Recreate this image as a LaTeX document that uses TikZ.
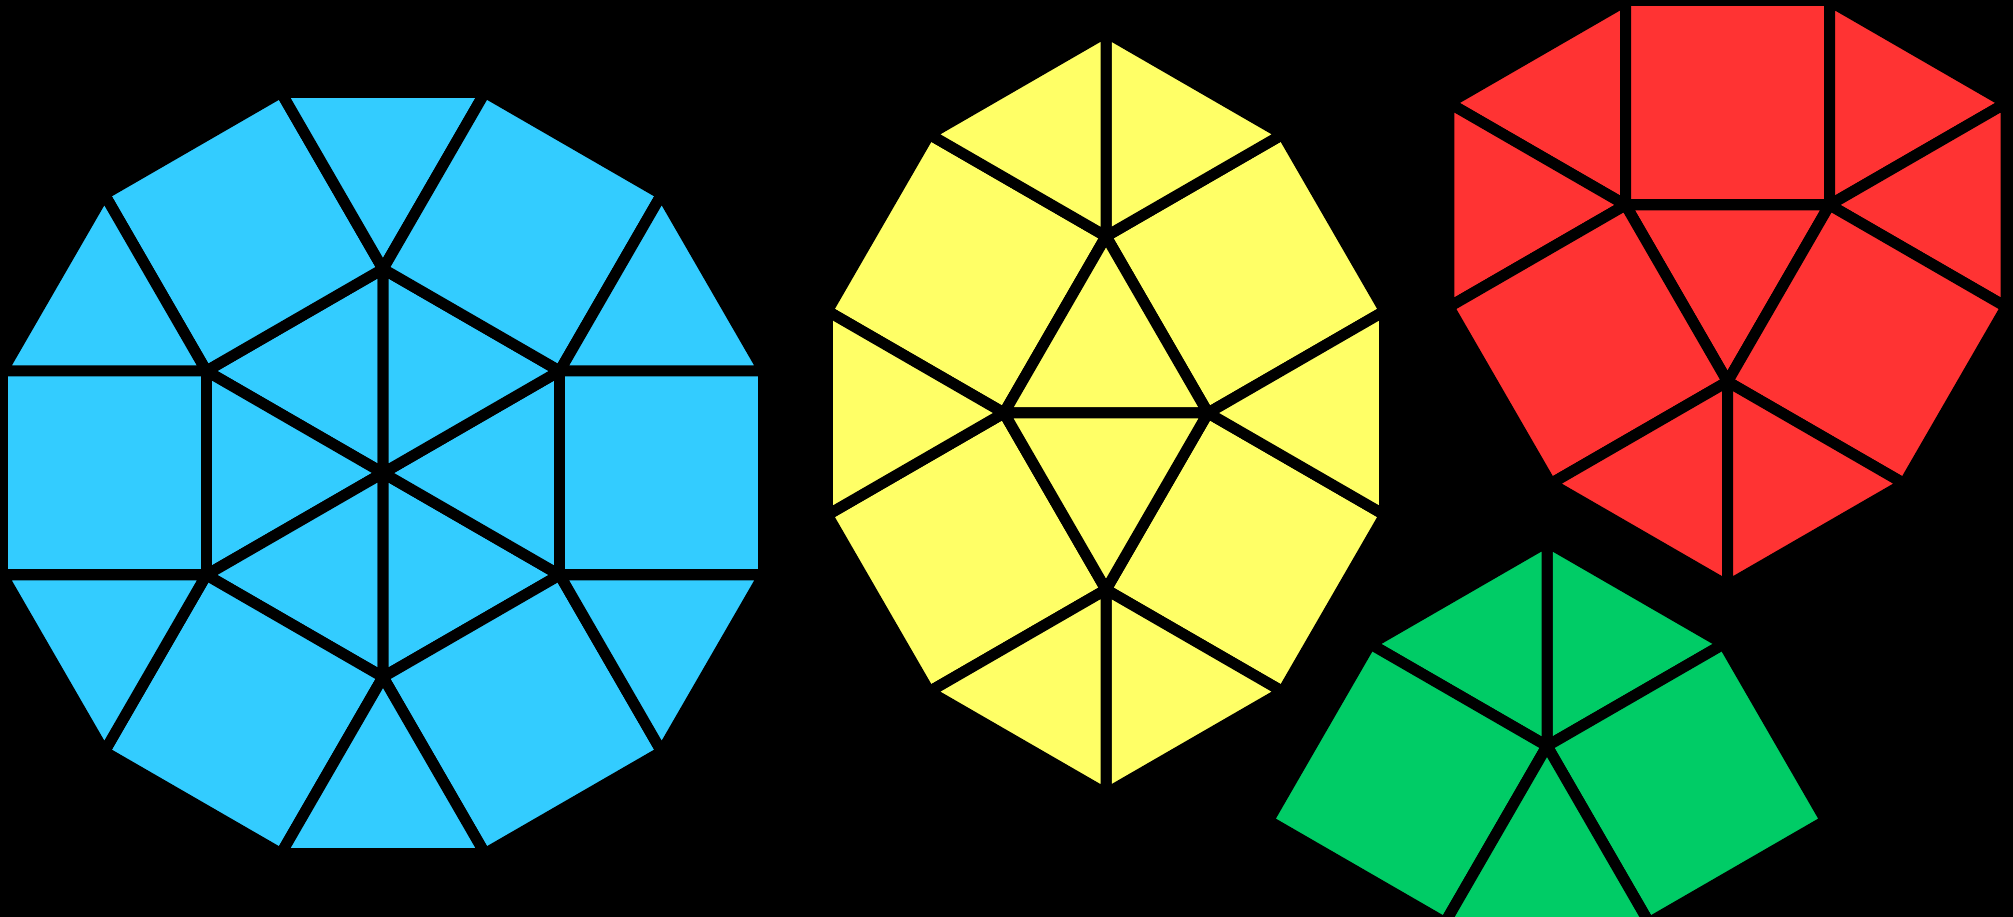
\documentclass[tikz,border=0pt]{standalone}
\usetikzlibrary{positioning}

\definecolor{tileblue}{HTML}{33CCFF}
\definecolor{tileyellow}{HTML}{FFFF66}
\definecolor{tilered}{HTML}{FF3333}
\definecolor{tilegreen}{HTML}{00CC66}

\begin{document}
\begin{tikzpicture}[
  x=1pt, y=1pt,
  tile/.style={draw=black, line width=11pt, line join=round},
]
  \useasboundingbox (0,0) rectangle (2013,917);
  \fill[black] (0,0) rectangle (2013,917);
  \clip (0,0) rectangle (2013,917);

  \begin{scope}[shift={(383,444)}, scale=204]
    \foreach \a in {90,150,...,390} {
      \filldraw[tile, fill=tileblue] (0,0) -- (\a:1) -- (\a+60:1) -- cycle;
      \filldraw[tile, fill=tileblue] (\a:1) -- (\a+60:1) -- ++(\a+30:1) -- ++(\a-60:1) -- cycle;
      \filldraw[tile, fill=tileblue] (\a:1) -- ++(\a-30:1) -- ++(\a+90:1) -- cycle;
    }
  \end{scope}

  \begin{scope}[shift={(1106,504)}, scale=204]
    \foreach \sx/\sy in {1/1,-1/1,1/-1,-1/-1} {
      \begin{scope}[xscale=\sx, yscale=\sy]
        \filldraw[tile, fill=tileyellow] (0,.866) -- (.5,0) -- (1.366,.5) -- (.866,1.366) -- cycle;
        \filldraw[tile, fill=tileyellow] (0,.866) -- (.866,1.366) -- (0,1.866) -- cycle;
      \end{scope}
    }
    \filldraw[tile, fill=tileyellow] (0,.866) -- (-.5,0) -- (.5,0) -- cycle;
    \filldraw[tile, fill=tileyellow] (0,-.866) -- (-.5,0) -- (.5,0) -- cycle;
    \filldraw[tile, fill=tileyellow] (.5,0) -- (1.366,.5) -- (1.366,-.5) -- cycle;
    \filldraw[tile, fill=tileyellow] (-.5,0) -- (-1.366,.5) -- (-1.366,-.5) -- cycle;
  \end{scope}

  \begin{scope}[shift={(1727.5,712)}, scale=204]
    \filldraw[tile, fill=tilered] (-.5,0) -- (.5,0) -- (.5,1) -- (-.5,1) -- cycle;
    \filldraw[tile, fill=tilered] (-.5,0) -- (.5,0) -- (0,-.866) -- cycle;
    \foreach \sx in {1,-1} {
      \begin{scope}[xscale=\sx]
        \filldraw[tile, fill=tilered] (-.5,0) -- (-.5,1) -- (-1.366,.5) -- cycle;
        \filldraw[tile, fill=tilered] (-.5,0) -- (-1.366,.5) -- (-1.366,-.5) -- cycle;
        \filldraw[tile, fill=tilered] (-.5,0) -- (0,-.866) -- (-.866,-1.366) -- (-1.366,-.5) -- cycle;
        \filldraw[tile, fill=tilered] (0,-.866) -- (-.866,-1.366) -- (0,-1.866) -- cycle;
      \end{scope}
    }
  \end{scope}

  \begin{scope}[shift={(1547,171)}, scale=204]
    \foreach \sx in {1,-1} {
      \begin{scope}[xscale=\sx]
        \filldraw[tile, fill=tilegreen] (0,0) -- (0,1) -- (.866,.5) -- cycle;
        \filldraw[tile, fill=tilegreen] (0,0) -- (.866,.5) -- (1.366,-.366) -- (.5,-.866) -- cycle;
      \end{scope}
    }
    \filldraw[tile, fill=tilegreen] (0,0) -- (.5,-.866) -- (-.5,-.866) -- cycle;
  \end{scope}
\end{tikzpicture}
\end{document}
